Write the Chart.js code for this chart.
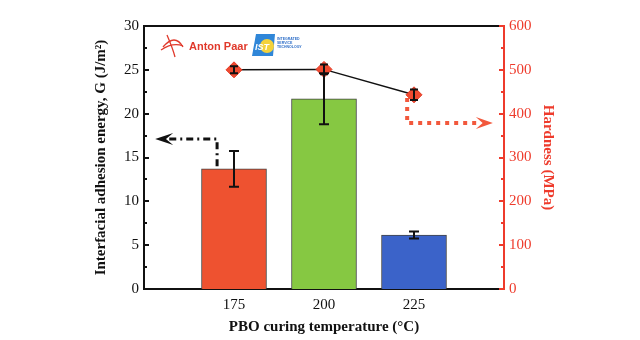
<!DOCTYPE html>
<html>
<head>
<meta charset="utf-8">
<script src="https://cdn.jsdelivr.net/npm/chart.js@4.4.1/dist/chart.umd.min.js"></script>
<style>
  html, body { margin: 0; padding: 0; background: #fff; }
</style>
</head>
<body>
<canvas id="adhesionChart" width="640" height="340"></canvas>
<script>
const TEMPS = [175, 200, 225];
const ADHESION = [13.7, 21.7, 6.15];
const ADHESION_ERR = [2.05, 2.9, 0.4];
const HARDNESS = [500, 501, 443];
const HARDNESS_ERR = [8, 11, 12];
const X_TICKS = [175, 200, 225];
const BAR_COLORS = ['#ee5230', '#86c842', '#3b63c9'];

const SERIF = "'Liberation Serif', 'Times New Roman', serif";
const RED = '#ee3b2c';

// inward tick marks, major + minor, drawn on top of the axes
function drawTicks(ctx, scale, x, dir, color, minorStep) {
    ctx.save();
    ctx.strokeStyle = color;
    ctx.lineWidth = 2;
    for (let v = scale.min; v <= scale.max + 1e-9; v += minorStep) {
        const y = Math.round(scale.getPixelForValue(v));
        const isMajor = scale.ticks.some(t => Math.abs(t.value - v) < 1e-6);
        const len = isMajor ? 5 : 3;
        ctx.beginPath();
        ctx.moveTo(x, y);
        ctx.lineTo(x + dir * len, y);
        ctx.stroke();
    }
    ctx.restore();
}

function arrowHead(ctx, tipX, tipY, dir, len, half) {
    ctx.beginPath();
    ctx.moveTo(tipX, tipY);
    ctx.lineTo(tipX + dir * len, tipY - half);
    ctx.lineTo(tipX + dir * len * 0.6, tipY);
    ctx.lineTo(tipX + dir * len, tipY + half);
    ctx.closePath();
    ctx.fill();
}

const decorPlugin = {
    id: 'decor',
    afterDatasetsDraw(chart) {
        const { ctx } = chart;
        const xs = chart.scales.x, ys = chart.scales.y, ys1 = chart.scales.y1;

        ctx.save();
        ctx.strokeStyle = '#111';
        ctx.lineWidth = 2;
        // error bars on the bars
        TEMPS.forEach((t, i) => {
            const x = Math.round(xs.getPixelForValue(t));
            const top = ys.getPixelForValue(ADHESION[i] + ADHESION_ERR[i]);
            const bot = ys.getPixelForValue(ADHESION[i] - ADHESION_ERR[i]);
            ctx.beginPath();
            ctx.moveTo(x, top); ctx.lineTo(x, bot);
            ctx.moveTo(x - 5, top); ctx.lineTo(x + 5, top);
            ctx.moveTo(x - 5, bot); ctx.lineTo(x + 5, bot);
            ctx.stroke();
        });
        // error bars on the hardness markers
        TEMPS.forEach((t, i) => {
            const x = Math.round(xs.getPixelForValue(t));
            const top = ys1.getPixelForValue(HARDNESS[i] + HARDNESS_ERR[i]);
            const bot = ys1.getPixelForValue(HARDNESS[i] - HARDNESS_ERR[i]);
            ctx.beginPath();
            ctx.moveTo(x, top); ctx.lineTo(x, bot);
            ctx.moveTo(x - 4, top); ctx.lineTo(x + 4, top);
            ctx.moveTo(x - 4, bot); ctx.lineTo(x + 4, bot);
            ctx.stroke();
        });
        ctx.restore();
    },
    afterDraw(chart) {
        const { ctx, chartArea: a } = chart;
        const xs = chart.scales.x, ys = chart.scales.y, ys1 = chart.scales.y1;

        // top frame
        ctx.save();
        ctx.strokeStyle = '#111';
        ctx.lineWidth = 2;
        ctx.beginPath();
        ctx.moveTo(a.left, a.top);
        ctx.lineTo(a.right, a.top);
        ctx.stroke();
        ctx.restore();

        drawTicks(ctx, ys, a.left, 1, '#111', 2.5);
        drawTicks(ctx, ys1, a.right, -1, RED, 50);

        // black dash-dot arrow pointing to the left axis
        ctx.save();
        const bx0 = xs.getPixelForValue(153.1), bx1 = xs.getPixelForValue(170.3);
        const by0 = ys.getPixelForValue(17.1), by1 = ys.getPixelForValue(14.0);
        ctx.strokeStyle = '#111';
        ctx.fillStyle = '#111';
        ctx.lineWidth = 3;
        ctx.setLineDash([7, 4, 2, 4]);
        ctx.beginPath();
        ctx.moveTo(bx1, by1);
        ctx.lineTo(bx1, by0);
        ctx.lineTo(bx0 + 14, by0);
        ctx.stroke();
        ctx.setLineDash([]);
        arrowHead(ctx, bx0, by0, 1, 18, 6);
        ctx.restore();

        // red dotted arrow pointing to the right axis
        ctx.save();
        const rx0 = xs.getPixelForValue(223.1), rx1 = xs.getPixelForValue(246.9);
        const ry0 = ys1.getPixelForValue(435.7), ry1 = ys1.getPixelForValue(378.7);
        ctx.strokeStyle = '#f2583c';
        ctx.fillStyle = '#f2583c';
        ctx.lineWidth = 4;
        ctx.setLineDash([4, 5]);
        ctx.beginPath();
        ctx.moveTo(rx0, ry0);
        ctx.lineTo(rx0, ry1);
        ctx.lineTo(rx1 - 12, ry1);
        ctx.stroke();
        ctx.setLineDash([]);
        arrowHead(ctx, rx1, ry1, -1, 17, 6);
        ctx.restore();

        // logos
        ctx.save();
        const lx = a.left + 17, ly = a.top + 5;
        ctx.strokeStyle = '#e0392b';
        ctx.lineWidth = 1.3;
        ctx.beginPath();
        ctx.moveTo(lx + 2, ly + 16);
        ctx.quadraticCurveTo(lx + 14, ly + 2, lx + 22, ly + 16);
        ctx.stroke();
        ctx.beginPath();
        ctx.moveTo(lx + 6, ly + 4);
        ctx.quadraticCurveTo(lx + 12, ly + 18, lx + 14, ly + 26);
        ctx.stroke();
        ctx.beginPath();
        ctx.moveTo(lx, ly + 19);
        ctx.quadraticCurveTo(lx + 12, ly + 11, lx + 22, ly + 15);
        ctx.stroke();
        ctx.fillStyle = '#e0392b';
        ctx.font = "bold 11px 'Liberation Sans', Arial, sans-serif";
        ctx.textBaseline = 'alphabetic';
        ctx.fillText('Anton Paar', lx + 28, ly + 19);

        const ix = a.left + 108, iy = a.top + 8;
        ctx.fillStyle = '#2f86d8';
        ctx.beginPath();
        ctx.moveTo(ix + 4, iy);
        ctx.lineTo(ix + 23, iy);
        ctx.lineTo(ix + 21, iy + 22);
        ctx.lineTo(ix, iy + 22);
        ctx.closePath();
        ctx.fill();
        ctx.fillStyle = '#f4d23a';
        ctx.beginPath();
        ctx.arc(ix + 15, iy + 12, 7, 0, Math.PI * 2);
        ctx.fill();
        ctx.fillStyle = '#fff';
        ctx.font = "italic bold 9px 'Liberation Sans', Arial, sans-serif";
        ctx.fillText('IST', ix + 3, iy + 16);
        ctx.fillStyle = '#2f6fc8';
        ctx.font = "bold 3.5px 'Liberation Sans', Arial, sans-serif";
        ctx.fillText('INTEGRATED', ix + 25, iy + 6);
        ctx.fillText('SERVICE', ix + 25, iy + 10);
        ctx.fillText('TECHNOLOGY', ix + 25, iy + 14);
        ctx.restore();
    }
};

const ctx = document.getElementById('adhesionChart').getContext('2d');

new Chart(ctx, {
    type: 'bar',
    data: {
        datasets: [
            {
                type: 'line',
                label: 'Hardness (MPa)',
                data: TEMPS.map((t, i) => ({ x: t, y: HARDNESS[i] })),
                yAxisID: 'y1',
                borderColor: '#111',
                borderWidth: 1.5,
                pointStyle: 'rectRot',
                pointRadius: 8,
                pointBackgroundColor: '#f04a30',
                pointBorderColor: '#e23a26',
                pointBorderWidth: 1,
                tension: 0,
                order: 0
            },
            {
                type: 'bar',
                label: 'Interfacial adhesion energy',
                data: TEMPS.map((t, i) => ({ x: t, y: ADHESION[i] })),
                yAxisID: 'y',
                backgroundColor: BAR_COLORS,
                borderColor: '#444',
                borderWidth: 1,
                barThickness: 65,
                order: 1
            }
        ]
    },
    options: {
        responsive: false,
        animation: false,
        devicePixelRatio: 1,
        layout: { padding: { left: 88, right: 79, top: 26, bottom: 0 } },
        plugins: {
            legend: { display: false },
            tooltip: { enabled: false }
        },
        scales: {
            x: {
                type: 'linear',
                min: 150,
                max: 250,
                offset: false,
                afterBuildTicks: s => { s.ticks = X_TICKS.map(v => ({ value: v })); },
                afterFit: s => { s.height = 51; },
                grid: { display: false, drawTicks: false, offset: false },
                border: { display: true, color: '#111', width: 2 },
                ticks: {
                    color: '#111',
                    padding: 7,
                    font: { family: SERIF, size: 15 }
                },
                title: {
                    display: true,
                    text: 'PBO curing temperature (°C)',
                    color: '#111',
                    font: { family: SERIF, size: 15, weight: 'bold' }
                }
            },
            y: {
                position: 'left',
                min: 0,
                max: 30,
                afterFit: s => { s.width = 56; },
                grid: { display: false, drawTicks: false },
                border: { display: true, color: '#111', width: 2 },
                ticks: {
                    stepSize: 5,
                    color: '#111',
                    padding: 5,
                    font: { family: SERIF, size: 15 }
                },
                title: {
                    display: true,
                    text: 'Interfacial adhesion energy, G (J/m²)',
                    color: '#111',
                    font: { family: SERIF, size: 15, weight: 'bold' }
                }
            },
            y1: {
                position: 'right',
                min: 0,
                max: 600,
                afterFit: s => { s.width = 57; },
                grid: { display: false, drawTicks: false },
                border: { display: true, color: RED, width: 2 },
                ticks: {
                    stepSize: 100,
                    color: RED,
                    padding: 5,
                    font: { family: SERIF, size: 15 }
                },
                title: {
                    display: true,
                    text: 'Hardness (MPa)',
                    color: RED,
                    font: { family: SERIF, size: 15, weight: 'bold' }
                }
            }
        }
    },
    plugins: [decorPlugin]
});
</script>
</body>
</html>
